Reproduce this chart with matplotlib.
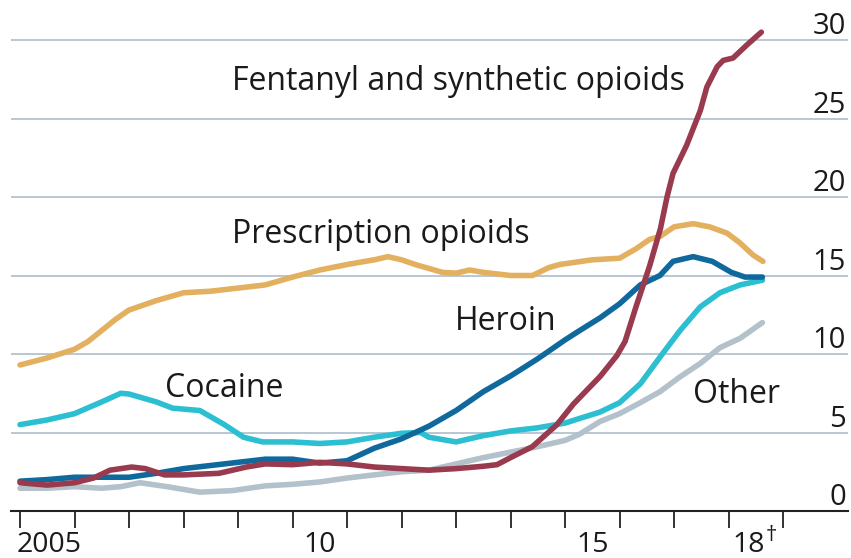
import matplotlib
matplotlib.use('Agg')
import matplotlib.pyplot as plt

# values (deaths per 100,000, 12-month rolling)
presc_x = [2005.0, 2005.5, 2006.0, 2006.25, 2006.5, 2006.75, 2007.0, 2007.5, 2008.0, 2008.5,
           2009.0, 2009.5, 2010.0, 2010.5, 2011.0, 2011.5, 2011.75, 2012.0, 2012.25, 2012.75,
           2013.0, 2013.25, 2013.5, 2014.0, 2014.4, 2014.7, 2014.9, 2015.5, 2016.0, 2016.3,
           2016.55, 2016.75, 2017.0, 2017.35, 2017.65, 2017.97, 2018.2, 2018.45, 2018.63]
presc_y = [9.3, 9.75, 10.3, 10.8, 11.5, 12.2, 12.8, 13.4, 13.9, 14.0,
           14.2, 14.4, 14.9, 15.35, 15.7, 16.0, 16.2, 16.0, 15.7, 15.2,
           15.15, 15.35, 15.2, 15.0, 15.0, 15.5, 15.7, 16.0, 16.1, 16.7,
           17.3, 17.5, 18.1, 18.3, 18.1, 17.7, 17.1, 16.3, 15.9]

heroin_x = [2005.0, 2005.5, 2006.0, 2006.5, 2007.0, 2007.5, 2008.0, 2008.5, 2009.0, 2009.5,
            2010.0, 2010.5, 2011.0, 2011.5, 2012.0, 2012.5, 2013.0, 2013.5, 2014.0, 2014.5,
            2015.0, 2015.27, 2015.64, 2016.0, 2016.38, 2016.74, 2016.98, 2017.35, 2017.7,
            2018.05, 2018.3, 2018.62]
heroin_y = [1.9, 2.0, 2.15, 2.15, 2.15, 2.4, 2.7, 2.9, 3.1, 3.3,
            3.3, 3.05, 3.2, 4.0, 4.6, 5.4, 6.4, 7.6, 8.6, 9.7,
            10.9, 11.5, 12.3, 13.2, 14.4, 15.0, 15.9, 16.2, 15.9,
            15.2, 14.9, 14.9]

cocaine_x = [2005.0, 2005.5, 2006.0, 2006.5, 2006.85, 2007.0, 2007.5, 2007.8, 2008.3, 2008.75,
             2009.1, 2009.45, 2010.0, 2010.5, 2011.0, 2011.5, 2012.0, 2012.35, 2012.5, 2013.0,
             2013.5, 2014.0, 2014.5, 2015.0, 2015.27, 2015.64, 2016.0, 2016.38, 2016.74,
             2017.11, 2017.48, 2017.84, 2018.21, 2018.62]
cocaine_y = [5.5, 5.8, 6.2, 6.95, 7.5, 7.45, 6.95, 6.55, 6.4, 5.5,
             4.7, 4.4, 4.4, 4.3, 4.4, 4.7, 4.95, 5.0, 4.7, 4.4,
             4.8, 5.1, 5.3, 5.6, 5.9, 6.3, 6.9, 8.1, 9.8,
             11.5, 13.0, 13.9, 14.4, 14.7]

fent_x = [2005.0, 2005.5, 2006.0, 2006.35, 2006.65, 2007.05, 2007.3, 2007.65, 2008.0, 2008.65,
          2009.15, 2009.5, 2010.0, 2010.5, 2011.0, 2011.5, 2012.0, 2012.5, 2013.0, 2013.5,
          2013.75, 2014.0, 2014.4, 2014.85, 2015.15, 2015.4, 2015.65, 2015.95, 2016.1, 2016.3,
          2016.55, 2016.75, 2016.87, 2016.98, 2017.23, 2017.48, 2017.6, 2017.79, 2017.9,
          2018.08, 2018.34, 2018.6]
fent_y = [1.8, 1.65, 1.8, 2.1, 2.6, 2.8, 2.7, 2.3, 2.3, 2.4,
          2.8, 3.0, 2.95, 3.1, 3.0, 2.8, 2.7, 2.6, 2.7, 2.85,
          2.95, 3.4, 4.1, 5.5, 6.8, 7.7, 8.6, 9.9, 10.8, 13.0,
          15.6, 18.0, 20.0, 21.5, 23.3, 25.5, 27.0, 28.3, 28.7,
          28.85, 29.7, 30.5]

other_x = [2005.0, 2005.5, 2006.0, 2006.5, 2006.85, 2007.2, 2007.7, 2008.3, 2008.9, 2009.5,
           2010.0, 2010.5, 2011.0, 2011.5, 2012.0, 2012.5, 2013.0, 2013.5, 2014.0, 2014.5,
           2015.0, 2015.27, 2015.64, 2016.0, 2016.38, 2016.74, 2017.11, 2017.48, 2017.84,
           2018.21, 2018.62]
other_y = [1.45, 1.45, 1.55, 1.45, 1.55, 1.8, 1.55, 1.2, 1.3, 1.6,
           1.7, 1.85, 2.1, 2.3, 2.5, 2.6, 3.0, 3.4, 3.75, 4.1,
           4.5, 4.9, 5.7, 6.2, 6.9, 7.6, 8.55, 9.4, 10.4,
           11.0, 12.0]

y_ticks = [0, 5, 10, 15, 20, 25, 30]
x_ticks = list(range(2005, 2020))
x_labels = ['2005', '10', '15', '18']
x_label_pos = [2005.53, 2010.5, 2015.5, 2018.36]

FONT = 'Open Sans'
TXT = '#1a1a1a'

fig = plt.figure(figsize=(8.51, 5.58), dpi=100)
ax = fig.add_axes([11 / 851, 47 / 558, 837 / 851, 502.4 / 558])
ax.set_xlim(2004.835, 2020.19)
ax.set_ylim(0, 32)

# grid lines
for v in y_ticks[1:]:
    ax.axhline(v, color='#b9c7d3', lw=1.4, zorder=1)
    
for s in ['top', 'left', 'right']:
    ax.spines[s].set_visible(False)
ax.spines['bottom'].set_color('#222222')
ax.spines['bottom'].set_linewidth(1.5)
ax.set_xticks(x_ticks)
ax.set_yticks([])
ax.tick_params(axis='x', direction='out', length=12, width=1.3, color='#222222', labelbottom=False)

# y labels sit above the gridlines, on the right
for v in y_ticks:
    ax.text(2020.15, v + 0.38, str(v), ha='right', va='baseline', fontsize=21,
            family=FONT, color=TXT)

for x, lab in zip(x_label_pos, x_labels):
    ax.text(x, -2.6, lab, ha='center', va='baseline', fontsize=20.5, family=FONT,
            color=TXT, clip_on=False)
ax.annotate('\u2020', xy=(2018.36, -2.6), xytext=(12.5, 8), textcoords='offset points',
            ha='left', va='baseline', fontsize=16, family=FONT, color=TXT,
            annotation_clip=False)

lw = 4
ax.plot(other_x, other_y, color='#b3c1cb', lw=lw, solid_capstyle='round', zorder=3)
ax.plot(presc_x, presc_y, color='#e3b060', lw=lw, solid_capstyle='round', zorder=4)
ax.plot(cocaine_x, cocaine_y, color='#2cbfd1', lw=lw, solid_capstyle='round', zorder=5)
ax.plot(heroin_x, heroin_y, color='#0f699c', lw=lw, solid_capstyle='round', zorder=6)
ax.plot(fent_x, fent_y, color='#993a4e', lw=lw, solid_capstyle='round', zorder=7)

# series labels
lab_kw = dict(fontsize=23, family=FONT, color=TXT, va='baseline', ha='left')
ax.text(2008.89, 26.8, 'Fentanyl and synthetic opioids', **lab_kw)
ax.text(2008.89, 17.07, 'Prescription opioids', **lab_kw)
ax.text(2012.98, 11.53, 'Heroin', **lab_kw)
ax.text(2007.66, 7.26, 'Cocaine', **lab_kw)
ax.text(2017.35, 6.88, 'Other', **lab_kw)

fig.savefig('out.png', dpi=100)
